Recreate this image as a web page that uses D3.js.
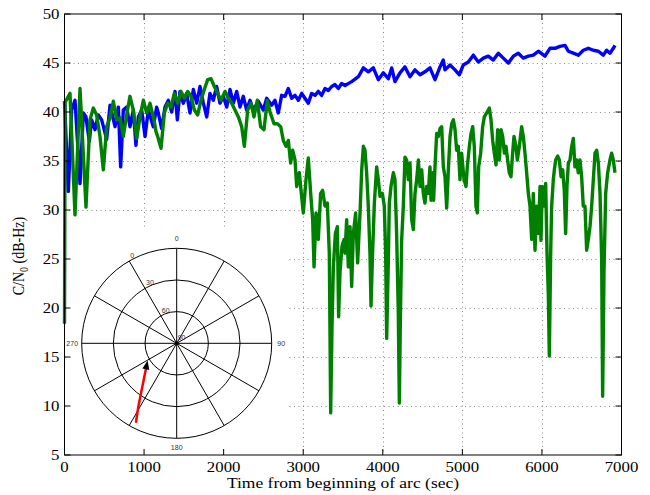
<!DOCTYPE html>
<html>
<head>
<meta charset="utf-8">
<script src="https://cdn.jsdelivr.net/npm/d3@7"></script>
<style>
  body { margin: 0; background: #fff; }
  svg { display: block; }
  .tick-lbl { font-family: "Liberation Serif", "DejaVu Serif", serif; font-size: 14px; fill: #000; }
  .polar-lbl { font-family: "Liberation Sans", "DejaVu Sans", sans-serif; font-size: 7px; fill: #333; }
</style>
</head>
<body>
<svg width="650" height="495"></svg>
<script>
// C/N0 de las dos señales (tiempo en s, dB-Hz)
let serieAzul = [[0,41.1],[48,31.9],[90,40.2],[132,41.2],[195,32.7],[237,39.9],[270,39.5],[312,37.0],[341,39.2],[383,38.2],[425,39.7],[467,39.2],[530,37.2],[572,40.7],[635,38.5],[677,40.5],[706,34.4],[739,40.2],[781,40.5],[823,38.5],[865,40.2],[898,36.6],[928,39.5],[970,40.2],[1012,37.5],[1053,40.2],[1116,38.5],[1158,40.5],[1179,39.9],[1221,38.3],[1263,40.5],[1305,41.2],[1347,40.0],[1389,42.1],[1418,39.2],[1451,42.1],[1493,40.9],[1535,41.9],[1577,39.9],[1619,42.3],[1661,40.9],[1703,42.6],[1745,40.9],[1787,39.5],[1828,41.9],[1870,41.2],[1912,42.6],[1954,40.9],[1996,41.6],[2038,40.5],[2080,42.3],[2122,40.9],[2164,42.1],[2206,40.5],[2247,41.6],[2289,40.2],[2331,41.2],[2373,40.2],[2436,41.1],[2499,40.2],[2541,41.4],[2604,40.7],[2645,41.2],[2687,39.9],[2729,41.7],[2771,41.6],[2813,42.4],[2855,41.4],[2897,41.7],[2939,41.2],[2981,41.9],[3022,41.4],[3064,40.9],[3106,41.9],[3148,41.7],[3190,42.1],[3232,41.7],[3274,42.4],[3316,42.2],[3358,42.6],[3399,42.8],[3441,42.4],[3483,42.9],[3525,42.7],[3609,43.1],[3693,43.6],[3756,44.5],[3818,44.1],[3881,44.5],[3944,43.3],[4007,44.0],[4070,43.4],[4112,44.5],[4153,43.1],[4216,44.0],[4279,44.6],[4342,43.6],[4405,44.3],[4468,43.8],[4530,44.1],[4593,44.5],[4656,43.3],[4719,44.6],[4760,45.3],[4782,44.3],[4845,44.8],[4908,44.3],[4962,43.8],[5012,44.8],[5075,45.1],[5138,45.8],[5201,45.1],[5264,45.5],[5326,45.7],[5389,45.3],[5452,46.0],[5515,45.5],[5578,45.0],[5641,45.7],[5703,46.0],[5766,45.5],[5829,45.7],[5892,45.8],[5955,46.2],[6038,45.7],[6101,46.5],[6164,46.5],[6227,46.7],[6290,46.8],[6332,46.2],[6395,46.0],[6457,45.8],[6520,46.3],[6583,46.5],[6646,46.3],[6709,46.2],[6771,45.8],[6813,46.3],[6855,46.0],[6897,46.5],[6918,46.8]]

let serieVerde = [[0,18.4],[8,41.0],[69,41.9],[132,29.5],[195,42.4],[270,30.3],[320,39.2],[362,40.4],[404,39.7],[446,37.5],[488,34.1],[530,38.5],[572,39.4],[614,41.1],[656,39.2],[697,39.4],[739,37.5],[781,39.7],[823,41.6],[865,40.2],[907,37.3],[949,39.5],[991,41.2],[1033,39.9],[1074,40.9],[1125,39.2],[1150,38.0],[1171,37.5],[1213,36.3],[1255,39.9],[1297,40.9],[1338,40.5],[1380,41.9],[1422,40.9],[1464,42.1],[1506,41.4],[1548,42.1],[1590,41.6],[1632,40.2],[1674,39.7],[1715,41.2],[1757,42.3],[1799,43.3],[1841,43.4],[1883,42.6],[1925,41.9],[1967,41.2],[2017,42.1],[2059,41.4],[2101,40.9],[2143,40.2],[2185,39.5],[2227,38.5],[2260,36.5],[2302,40.2],[2344,40.9],[2381,39.5],[2423,41.2],[2465,38.5],[2507,38.2],[2549,41.2],[2583,40.0],[2633,38.8],[2675,38.8],[2717,38.5],[2750,37.1],[2784,36.5],[2813,37.1],[2842,34.8],[2867,36.1],[2897,35.1],[2918,32.4],[2951,33.8],[2980,31.4],[3001,29.7],[3035,33.1],[3064,35.3],[3094,31.7],[3119,29.0],[3136,24.2],[3161,29.7],[3190,27.0],[3219,31.7],[3244,32.0],[3274,30.4],[3303,30.7],[3328,25.6],[3345,9.3],[3362,18.1],[3379,24.2],[3404,27.6],[3429,28.3],[3445,19.1],[3462,23.6],[3487,26.3],[3513,27.0],[3525,25.6],[3546,29.0],[3567,24.2],[3588,28.3],[3609,22.2],[3630,27.6],[3659,29.7],[3684,24.6],[3714,29.7],[3735,34.1],[3756,36.5],[3776,36.1],[3797,33.8],[3818,30.4],[3839,25.6],[3852,20.2],[3869,24.9],[3894,30.7],[3923,34.4],[3944,33.1],[3965,31.4],[3994,31.7],[4019,30.4],[4036,25.6],[4049,16.9],[4070,24.9],[4082,30.7],[4103,32.4],[4133,33.8],[4153,33.1],[4174,27.6],[4195,19.5],[4208,10.3],[4221,18.8],[4237,26.9],[4258,30.4],[4279,35.4],[4300,35.1],[4321,33.1],[4342,34.8],[4363,29.0],[4384,28.0],[4405,31.7],[4426,33.1],[4447,35.1],[4468,32.4],[4489,34.1],[4509,31.7],[4530,30.7],[4551,32.4],[4572,31.7],[4593,34.4],[4606,31.0],[4623,33.8],[4639,31.0],[4656,34.4],[4677,37.8],[4698,37.5],[4719,38.3],[4740,38.5],[4761,34.4],[4782,33.4],[4803,30.2],[4824,34.1],[4845,37.5],[4866,38.8],[4887,39.2],[4908,38.2],[4928,36.1],[4949,36.5],[4970,33.1],[4991,35.8],[5021,33.1],[5046,32.4],[5062,34.4],[5088,36.5],[5109,37.8],[5130,38.5],[5150,36.5],[5171,30.4],[5188,29.7],[5205,34.4],[5230,35.8],[5255,38.5],[5276,39.5],[5305,39.9],[5339,40.4],[5360,39.2],[5381,37.1],[5402,35.8],[5423,34.6],[5444,38.2],[5465,35.1],[5486,38.2],[5507,37.5],[5528,35.8],[5548,36.5],[5569,35.1],[5590,33.8],[5611,33.4],[5632,35.8],[5649,37.5],[5674,36.5],[5691,35.1],[5716,36.5],[5745,38.5],[5766,37.5],[5787,35.8],[5808,33.8],[5829,31.7],[5850,30.4],[5871,27.0],[5892,31.7],[5913,25.9],[5934,30.4],[5955,27.6],[5976,32.4],[5988,26.9],[6005,32.4],[6030,30.4],[6047,32.7],[6064,25.6],[6080,21.5],[6093,15.1],[6110,25.6],[6122,30.4],[6143,33.1],[6156,34.1],[6173,35.1],[6198,35.5],[6219,35.1],[6240,33.4],[6261,34.1],[6281,32.0],[6298,27.6],[6315,32.4],[6332,34.8],[6353,35.1],[6374,36.5],[6395,37.3],[6415,34.4],[6436,35.1],[6457,33.8],[6478,35.1],[6499,33.4],[6520,30.4],[6541,30.4],[6562,25.9],[6583,27.0],[6604,28.3],[6625,30.4],[6646,33.1],[6667,35.8],[6688,36.1],[6709,34.8],[6730,31.7],[6751,24.9],[6763,11.0],[6780,23.6],[6801,31.7],[6826,33.8],[6855,35.1],[6876,35.8],[6897,35.1],[6918,33.8]]

let ticksX = [0, 1000, 2000, 3000, 4000, 5000, 6000, 7000]
let ticksY = [5, 10, 15, 20, 25, 30, 35, 40, 45, 50]

// Trayectoria en el cielo (azimut, elevación en grados)
let trayAz = [207.4, 211.2, 230.8]
let trayEl = [6.3, 19.8, 52.5]

let polarAnillos = [0, 30, 60]
let polarRayos = [0, 30, 60, 90, 120, 150]
let polarAzLbl = [[0, '0'], [90, '90'], [180, '180'], [270, '270']]
let polarElLbl = [0, 30, 60, 90]



let svg = d3.select('svg')

let x = d3.scaleLinear().domain([0, 7000]).range([64.5, 621.5])
let y = d3.scaleLinear().domain([5, 50]).range([455, 14])

let estirar = 1.2   // el texto original sale ensanchado

/* Rejilla */
let rejilla = svg.append('g')
  .attr('stroke', '#8a8a8a').attr('stroke-width', 1).attr('stroke-dasharray', '1,3.5')

rejilla.selectAll('line.vx').data(ticksX.slice(1, -1)).enter().append('line')
  .attr('x1', d => Math.round(x(d)) + 0.5).attr('x2', d => Math.round(x(d)) + 0.5)
  .attr('y1', y(50)).attr('y2', y(5))

rejilla.selectAll('line.hy').data(ticksY.slice(1, -1)).enter().append('line')
  .attr('y1', d => Math.round(y(d)) + 0.5).attr('y2', d => Math.round(y(d)) + 0.5)
  .attr('x1', x(0)).attr('x2', x(7000))

/* Series */
let linea = d3.line().x(d => x(d[0])).y(d => y(d[1]))

svg.append('path').datum(serieAzul)
  .attr('d', linea).attr('fill', 'none')
  .attr('stroke', '#0000ff').attr('stroke-width', 3.4).attr('stroke-linejoin', 'round')

svg.append('path').datum(serieVerde)
  .attr('d', linea).attr('fill', 'none')
  .attr('stroke', '#008000').attr('stroke-width', 3.4).attr('stroke-linejoin', 'round')

/* Recuadro polar */
svg.append('rect')
  .attr('x', 68).attr('y', 230).attr('width', 220).attr('height', 224)
  .attr('fill', '#fff')

let centro = {x: 176.7, y: 343.3}
let r = d3.scaleLinear().domain([90, 0]).range([0, 95])
let polar = svg.append('g').attr('transform', `translate(${centro.x},${centro.y})`)

let aXY = (az, el) => {
  let a = az * Math.PI / 180
  return [r(el) * Math.sin(a), -r(el) * Math.cos(a)]
}

polar.selectAll('circle.anillo').data(polarAnillos).enter().append('circle')
  .attr('r', d => r(d)).attr('fill', 'none').attr('stroke', '#000').attr('stroke-width', 1)

polar.selectAll('line.rayo').data(polarRayos).enter().append('line')
  .attr('x1', d => aXY(d, 0)[0]).attr('y1', d => aXY(d, 0)[1])
  .attr('x2', d => aXY(d + 180, 0)[0]).attr('y2', d => aXY(d + 180, 0)[1])
  .attr('stroke', '#000').attr('stroke-width', 1)

polar.selectAll('text.az').data(polarAzLbl).enter().append('text')
  .attr('class', 'polar-lbl')
  .attr('x', d => 1.1 * aXY(d[0], 0)[0])
  .attr('y', d => 1.1 * aXY(d[0], 0)[1] + 2.5)
  .attr('text-anchor', 'middle')
  .text(d => d[1])

polar.selectAll('text.el').data(polarElLbl).enter().append('text')
  .attr('class', 'polar-lbl')
  .attr('x', d => aXY(330, d)[0] + 1)
  .attr('y', d => aXY(330, d)[1] - 3)
  .text(d => d)

polar.append('circle').attr('r', 1.8).attr('fill', '#000')

let tray = trayAz.map((az, i) => aXY(az, trayEl[i]))
polar.append('path').datum(tray)
  .attr('d', d3.line()).attr('fill', 'none')
  .attr('stroke', '#ff0000').attr('stroke-width', 2.5).attr('stroke-linecap', 'round')

// punta de flecha al final
let [p0, p1] = tray.slice(-2)
let ang = Math.atan2(p1[1] - p0[1], p1[0] - p0[0]) * 180 / Math.PI
polar.append('path')
  .attr('d', 'M8,0 L-1,-3.5 L-1,3.5 Z')
  .attr('fill', '#000')
  .attr('transform', `translate(${p1[0]},${p1[1]}) rotate(${ang})`)

/* Ejes */
let marco = svg.append('g').attr('stroke', '#000').attr('stroke-width', 1).attr('fill', 'none')
marco.append('rect')
  .attr('x', x(0)).attr('y', y(50))
  .attr('width', x(7000) - x(0)).attr('height', y(5) - y(50))

marco.selectAll('path.tx').data(ticksX).enter().append('path')
  .attr('d', d => `M${x(d)},${y(5)}v-6M${x(d)},${y(50)}v6`)
marco.selectAll('path.ty').data(ticksY).enter().append('path')
  .attr('d', d => `M${x(0)},${y(d)}h6M${x(7000)},${y(d)}h-6`)

svg.selectAll('text.lx').data(ticksX).enter().append('text')
  .attr('class', 'tick-lbl')
  .attr('transform', d => `translate(${x(d)},${y(5) + 17}) scale(${estirar},1)`)
  .attr('text-anchor', 'middle')
  .text(d => d)

svg.selectAll('text.ly').data(ticksY).enter().append('text')
  .attr('class', 'tick-lbl')
  .attr('transform', d => `translate(${x(0) - 5},${y(d) + 5}) scale(${estirar},1)`)
  .attr('text-anchor', 'end')
  .text(d => d)

svg.append('text')
  .attr('class', 'tick-lbl')
  .attr('font-size', '14.6px')
  .attr('transform', `translate(${(x(0) + x(7000)) / 2},${y(5) + 33}) scale(${estirar},1)`)
  .attr('text-anchor', 'middle')
  .style('font-size', '14.6px')
  .text('Time from beginning of arc (sec)')

let etiquetaY = svg.append('text')
  .attr('class', 'tick-lbl')
  .attr('transform', `translate(24,256) rotate(-90) scale(1,${estirar})`)
  .attr('text-anchor', 'middle')
etiquetaY.append('tspan').text('C/N')
etiquetaY.append('tspan').attr('font-size', '10px').attr('dy', 3).text('0')
etiquetaY.append('tspan').attr('dy', -3).text(' (dB-Hz)')
</script>
</body>
</html>
